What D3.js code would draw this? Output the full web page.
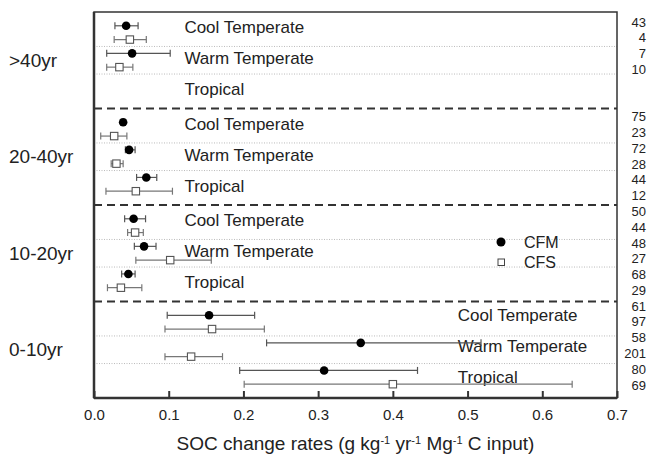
<!DOCTYPE html>
<html>
<head>
<meta charset="utf-8">
<script src="https://cdn.jsdelivr.net/npm/d3@7"></script>
<style>
  body { margin: 0; background: #fff; }
  text { font-family: Arial, "Liberation Sans", sans-serif; fill: #222; }
</style>
</head>
<body>
<div id="chart"></div>
<script>
// age groups, top to bottom
const groups = [">40yr", "20-40yr", "10-20yr", "0-10yr"];
const climates = ["Cool Temperate", "Warm Temperate", "Tropical"];

// one entry per climate per group (cool, warm, tropical), null = no data
const cfmMean = [0.043, 0.051, null,   0.039, 0.047, 0.070,   0.053, 0.067, 0.046,   0.154, 0.357, 0.308];
const cfmLow  = [0.028, 0.017, null,   0.036, 0.042, 0.057,   0.041, 0.054, 0.037,   0.098, 0.231, 0.195];
const cfmHigh = [0.059, 0.102, null,   0.042, 0.055, 0.084,   0.069, 0.083, 0.055,   0.215, 0.518, 0.433];
const cfsMean = [0.048, 0.034, null,   0.027, 0.030, 0.056,   0.055, 0.102, 0.036,   0.158, 0.130, 0.400];
const cfsLow  = [0.027, 0.017, null,   0.009, 0.023, 0.016,   0.045, 0.056, 0.018,   0.095, 0.095, 0.201];
const cfsHigh = [0.070, 0.052, null,   0.044, 0.039, 0.105,   0.066, 0.157, 0.064,   0.228, 0.172, 0.640];

// sample sizes, right column
const counts = ["43", "4", "7", "10", "", "",
                "75", "23", "72", "28", "44", "12",
                "50", "44", "48", "27", "68", "29",
                "61", "97", "58", "201", "80", "69"];

const xTicks = [0, 0.1, 0.2, 0.3, 0.4, 0.5, 0.6, 0.7];

const width = 648, height = 456;
const margin = {top: 12, right: 31, bottom: 58, left: 94};

const svg = d3.select("#chart").append("svg")
    .attr("width", width)
    .attr("height", height);

const x = d3.scaleLinear().domain([0, 0.7]).range([margin.left, width - margin.right]);
const yGroup = d3.scaleBand().domain(groups).range([margin.top, height - margin.bottom]);
const yRow = d3.scalePoint().domain(d3.range(6)).range([0, yGroup.bandwidth()]).padding(1);

// flatten to rows
const rows = [];
groups.forEach((g, gi) => {
    climates.forEach((c, ci) => {
        const k = gi * 3 + ci;
        if (cfmMean[k] != null) {
            rows.push({type: "CFM", y: yGroup(g) + yRow(ci * 2), m: cfmMean[k], lo: cfmLow[k], hi: cfmHigh[k]});
            rows.push({type: "CFS", y: yGroup(g) + yRow(ci * 2 + 1), m: cfsMean[k], lo: cfsLow[k], hi: cfsHigh[k]});
        }
    });
});

// dotted separators between climates
groups.forEach(g => {
    [1.5, 3.5].forEach(p => {
        const yy = yGroup(g) + (yRow(Math.floor(p)) + yRow(Math.ceil(p))) / 2;
        svg.append("line")
            .attr("x1", x(0)).attr("x2", x(0.7))
            .attr("y1", yy).attr("y2", yy)
            .attr("stroke", "#aaa")
            .attr("stroke-width", 0.8)
            .attr("stroke-dasharray", "1,1.5");
    });
});

// dashed separators between age groups
groups.slice(1).forEach(g => {
    svg.append("line")
        .attr("x1", x(0)).attr("x2", x(0.7))
        .attr("y1", yGroup(g)).attr("y2", yGroup(g))
        .attr("stroke", "#333")
        .attr("stroke-width", 2)
        .attr("stroke-dasharray", "8,5");
});

// climate labels
groups.forEach((g, gi) => {
    climates.forEach((c, ci) => {
        const top = yGroup(g) + (ci === 0 ? 0 : (yRow(ci * 2 - 1) + yRow(ci * 2)) / 2);
        const bot = yGroup(g) + (ci === 2 ? yGroup.bandwidth() : (yRow(ci * 2 + 1) + yRow(ci * 2 + 2)) / 2);
        svg.append("text")
            .attr("x", gi === 3 ? x(0.487) : x(0.121))
            .attr("y", (top + bot) / 2 - (gi === 3 ? 4 : 2))
            .attr("dy", "0.35em")
            .attr("font-size", 17)
            .text(c);
    });
});

// error bars
const bars = svg.selectAll(".bar").data(rows).enter().append("g").attr("class", "bar")
    .attr("stroke", d => d.type === "CFM" ? "#555" : "#777")
    .attr("stroke-width", 1.2);
bars.append("line")
    .attr("x1", d => x(d.lo)).attr("x2", d => x(d.hi))
    .attr("y1", d => d.y).attr("y2", d => d.y);
bars.append("line")
    .attr("x1", d => x(d.lo)).attr("x2", d => x(d.lo))
    .attr("y1", d => d.y - 3.5).attr("y2", d => d.y + 3.5);
bars.append("line")
    .attr("x1", d => x(d.hi)).attr("x2", d => x(d.hi))
    .attr("y1", d => d.y - 3.5).attr("y2", d => d.y + 3.5);

// markers
svg.selectAll(".cfm").data(rows.filter(d => d.type === "CFM")).enter().append("circle")
    .attr("cx", d => x(d.m)).attr("cy", d => d.y)
    .attr("r", 4.3)
    .attr("fill", "#000");
svg.selectAll(".cfs").data(rows.filter(d => d.type === "CFS")).enter().append("rect")
    .attr("x", d => x(d.m) - 3.7).attr("y", d => d.y - 3.7)
    .attr("width", 7.4).attr("height", 7.4)
    .attr("fill", "#fff")
    .attr("stroke", "#555")
    .attr("stroke-width", 1.1);

// frame
svg.append("rect")
    .attr("x", x(0)).attr("y", margin.top)
    .attr("width", x(0.7) - x(0)).attr("height", height - margin.bottom - margin.top)
    .attr("fill", "none")
    .attr("stroke", "#333")
    .attr("stroke-width", 1.5);
svg.append("line")
    .attr("x1", x(0)).attr("x2", x(0.7))
    .attr("y1", height - margin.bottom).attr("y2", height - margin.bottom)
    .attr("stroke", "#333").attr("stroke-width", 2.5);
svg.append("line")
    .attr("x1", x(0)).attr("x2", x(0))
    .attr("y1", margin.top).attr("y2", height - margin.bottom)
    .attr("stroke", "#333").attr("stroke-width", 2.5);

// x axis (ticks point inward)
const xAxis = svg.append("g")
    .attr("transform", `translate(0,${height - margin.bottom})`)
    .call(d3.axisBottom(x).tickValues(xTicks).tickSize(-7).tickPadding(11).tickFormat(d3.format(".1f")));
xAxis.select(".domain").remove();
xAxis.selectAll(".tick line").attr("stroke", "#333").attr("stroke-width", 2);
xAxis.selectAll(".tick text")
    .attr("font-size", 15)
    .attr("font-family", "Arial, 'Liberation Sans', sans-serif")
    .attr("fill", "#333");

// axis title with superscripts
const title = svg.append("text")
    .attr("x", (x(0) + x(0.7)) / 2)
    .attr("y", 450)
    .attr("text-anchor", "middle")
    .attr("font-size", 19);
[["SOC change rates (g kg", false], ["-1", true], [" yr", false], ["-1", true],
 [" Mg", false], ["-1", true], [" C input)", false]].forEach(([t, sup]) => {
    const ts = title.append("tspan").text(t);
    if (sup) ts.attr("font-size", 11).attr("baseline-shift", "super");
});

// group labels
svg.selectAll(".grp").data(groups).enter().append("text")
    .attr("x", 9)
    .attr("y", d => yGroup(d) + yGroup.bandwidth() / 2)
    .attr("dy", "0.35em")
    .attr("font-size", 19)
    .text(d => d);

// legend
svg.append("circle").attr("cx", 501).attr("cy", 242).attr("r", 4.5).attr("fill", "#000");
svg.append("rect").attr("x", 498).attr("y", 259).attr("width", 6.5).attr("height", 6.5)
    .attr("fill", "#fff").attr("stroke", "#444").attr("stroke-width", 1);
svg.append("text").attr("x", 524).attr("y", 242).attr("dy", "0.35em").attr("font-size", 16).text("CFM");
svg.append("text").attr("x", 524).attr("y", 262).attr("dy", "0.35em").attr("font-size", 16).text("CFS");

// sample size column
const yCount = d3.scalePoint().domain(d3.range(counts.length)).range([22, 385]);
svg.selectAll(".cnt").data(counts).enter().append("text")
    .attr("x", 646)
    .attr("y", (d, i) => yCount(i))
    .attr("dy", "0.35em")
    .attr("text-anchor", "end")
    .attr("font-size", 13)
    .text(d => d);
</script>
</body>
</html>
